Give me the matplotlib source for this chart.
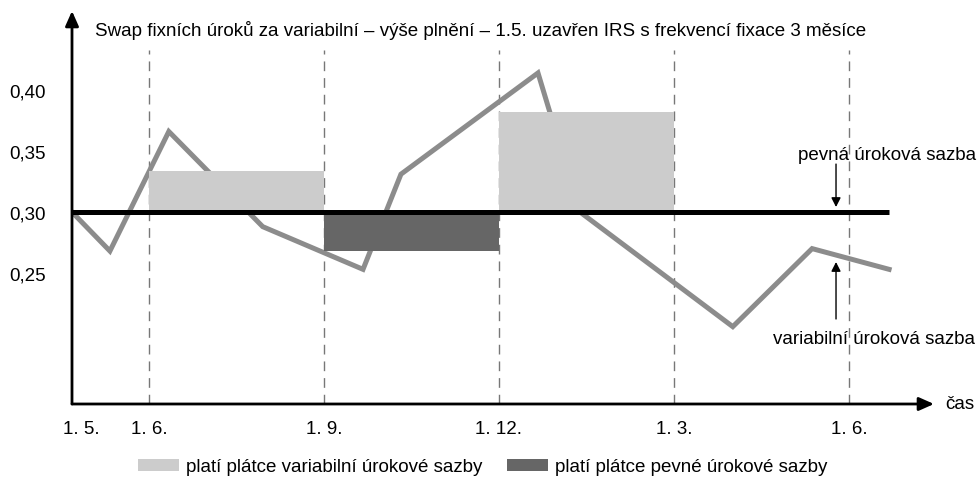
import matplotlib
matplotlib.use("Agg")
import matplotlib.pyplot as plt
from matplotlib.patches import Patch

plt.rcParams['font.family'] = ['Liberation Sans', 'DejaVu Sans']
FS = 13.5

# ---- data ----
tick_labels = ['1. 5.', '1. 6.', '1. 9.', '1. 12.', '1. 3.', '1. 6.']
tick_pos = [0.0, 1.32, 4.32, 7.32, 10.32, 13.32]          # months from 1.5.
var_x = [0.0, 0.65, 1.66, 3.27, 4.99, 5.64, 7.99, 8.71, 11.33, 12.69, 14.01]
var_y = [0.300, 0.268, 0.366, 0.288, 0.253, 0.331, 0.414, 0.300, 0.206, 0.270, 0.253]
fixed_rate = 0.30
fixed_end = 14.01
bar_start = [1.32, 4.32, 7.32]
bar_end = [4.32, 7.32, 10.32]
bar_rate = [0.334, 0.268, 0.382]
ytick_vals = [0.25, 0.30, 0.35, 0.40]
ytick_labels = ['0,25', '0,30', '0,35', '0,40']
title = 'Swap fixních úroků za variabilní – výše plnění – 1.5. uzavřen IRS s frekvencí fixace 3 měsíce'
leg_labels = ['platí plátce variabilní úrokové sazby', 'platí plátce pevné úrokové sazby']

LIGHT, DARK, LINE = '#cccccc', '#666666', '#8c8c8c'
W, H = 979, 481
fig = plt.figure(figsize=(W/100, H/100), dpi=100)
ax = fig.add_axes([72/W, (H-405)/H, (934-72)/W, (405-12)/H])
ax.set_xlim(0, 14.78)
ax.set_ylim(0.1426, 0.4648)
for s in ax.spines.values():
    s.set_visible(False)
ax.set_xticks([])
ax.set_yticks(ytick_vals)
ax.set_yticklabels(ytick_labels)
ax.tick_params(axis='y', length=0, pad=19, labelsize=FS)

# dashed verticals
for p in tick_pos[1:]:
    ax.axvline(p, ymin=0, ymax=0.90, color='#777777', lw=1, ls=(0, (7, 5)), zorder=1)

ax.plot(var_x, var_y, color=LINE, lw=3.6, zorder=2, solid_joinstyle='miter')
for s, e, r in zip(bar_start, bar_end, bar_rate):
    col = LIGHT if r > fixed_rate else DARK
    ax.bar(s, r - fixed_rate, width=e - s, bottom=fixed_rate, align='edge', color=col, zorder=3, lw=0)
ax.plot([0, fixed_end], [fixed_rate, fixed_rate], color='black', lw=3.6, zorder=4, solid_capstyle='butt')

# axes arrows
ax.annotate('', xy=(1.0, 0), xytext=(0, 0), xycoords='axes fraction',
            arrowprops=dict(arrowstyle='-|>,head_length=0.9,head_width=0.4', color='black', lw=2, shrinkA=0, shrinkB=0), zorder=5)
ax.annotate('', xy=(0, 1.0), xytext=(0, 0), xycoords='axes fraction',
            arrowprops=dict(arrowstyle='-|>,head_length=0.9,head_width=0.4', color='black', lw=2, shrinkA=0, shrinkB=0), zorder=5)

for p, lab, off in zip(tick_pos, tick_labels, [9, 0, 0, 0, 0, 0]):
    ax.annotate(lab, xy=(p, 0), xycoords=('data', 'axes fraction'), xytext=(off * 0.72, -17.5),
                textcoords='offset points', ha='center', va='center', fontsize=FS)
ax.annotate('čas', xy=(1.0, 0), xycoords='axes fraction', xytext=(8, 0), textcoords='offset points',
            ha='left', va='center', fontsize=FS)
ax.annotate(title, xy=(0, 1.0), xycoords='axes fraction', xytext=(16.5, -13), textcoords='offset points',
            ha='left', va='center', fontsize=FS)

# annotations
ax.annotate('', xy=(13.10, 0.3041), xytext=(13.10, 0.3393),
            arrowprops=dict(arrowstyle='-|>,head_length=0.55,head_width=0.28', color='black', lw=1, shrinkA=0, shrinkB=0))
ax.text(13.97, 0.3475, 'pevná úroková sazba', ha='center', va='center', fontsize=FS)
ax.annotate('', xy=(13.10, 0.259), xytext=(13.10, 0.2123),
            arrowprops=dict(arrowstyle='-|>,head_length=0.55,head_width=0.28', color='black', lw=1, shrinkA=0, shrinkB=0))
ax.text(13.75, 0.1959, 'variabilní úroková sazba', ha='center', va='center', fontsize=FS)

handles = [Patch(color=LIGHT, lw=0), Patch(color=DARK, lw=0)]
fig.legend(handles, leg_labels, loc='center', bbox_to_anchor=(483/W, 1 - 468/H), ncol=2, frameon=False,
           fontsize=FS, handlelength=2.15, handleheight=0.65, handletextpad=0.42, columnspacing=1.3)

fig.savefig('out.png', dpi=100)
